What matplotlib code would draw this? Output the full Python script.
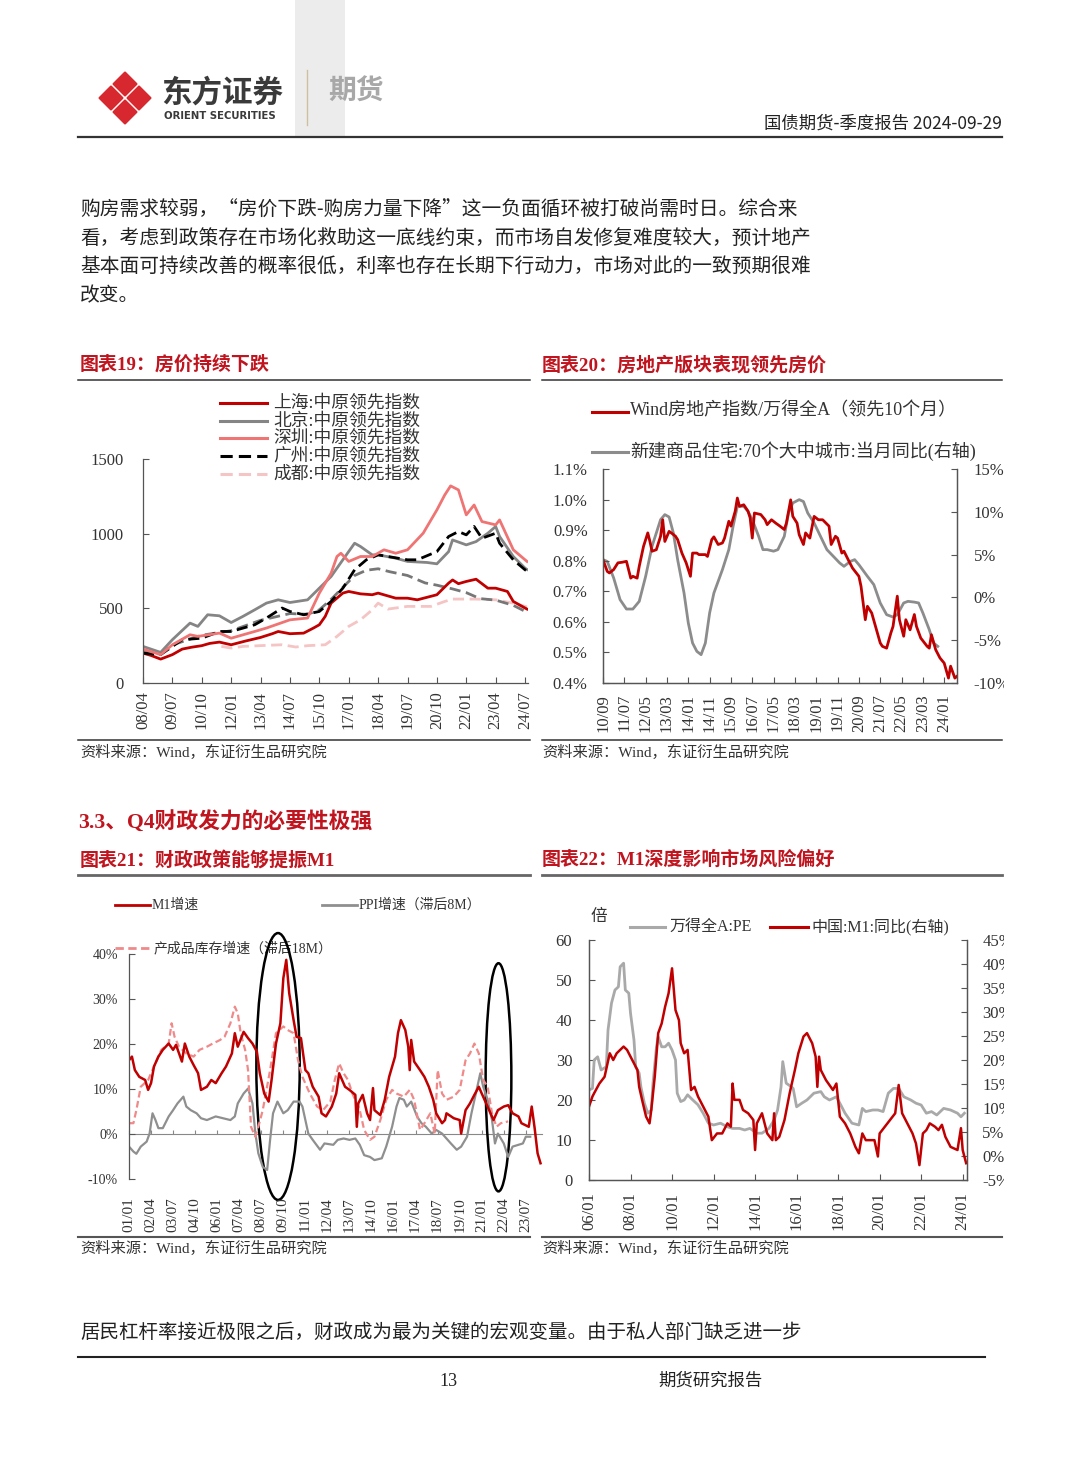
import numpy as np
import pandas as pd
import matplotlib
matplotlib.use('Agg')
import matplotlib.pyplot as plt
from matplotlib.patches import Polygon, Rectangle, Ellipse

SERIF = ['Liberation Serif', 'Noto Sans CJK SC']
SANS = ['Noto Sans CJK SC', 'DejaVu Sans']
plt.rcParams['font.family'] = SERIF

W, H = 1080, 1466
DARK_RED = '#c00000'
TITLE_RED = '#c0141e'
TXT = '#222222'
AX = '#555555'

# ---- chart 19: 中原领先指数, months since 2008-04
sh_m = [0,4,9,15,20,25,30,34,39,45,52,60,66,69,75,82,87,90,93,96,102,105,111,117,120,129,135,140,150,156,158,161,165,170,176,180,186,189,195,196]
sh_v = [200,185,160,190,227,240,250,265,274,256,280,305,330,345,330,334,368,390,446,535,602,613,597,591,602,568,568,557,591,669,690,665,680,695,635,635,613,546,502,495]
bj_m = [0,9,15,24,28,33,39,45,51,57,63,69,75,82,84,90,96,102,108,111,117,120,129,135,145,150,156,158,165,170,176,180,182,189,195,196]
bj_v = [245,205,290,401,379,457,450,405,446,490,535,557,539,553,557,635,713,825,936,914,858,858,836,814,807,798,880,958,925,947,1003,1048,981,847,769,760]
sz_m = [0,9,15,24,28,39,45,57,63,75,84,90,96,99,101,105,111,117,123,129,135,143,150,154,157,161,165,169,173,180,182,189,195,196]
sz_v = [227,190,256,323,312,334,300,345,368,423,435,602,735,847,869,814,847,847,892,869,892,1003,1159,1259,1320,1293,1126,1192,1081,1059,1092,892,825,814]
gz_m = [0,9,15,20,30,39,45,57,63,71,75,82,90,96,102,108,114,120,125,135,140,150,156,161,165,169,173,180,182,189,195,196]
gz_v = [200,190,245,290,300,345,345,390,435,502,479,457,479,546,635,758,825,858,847,825,825,880,981,1014,992,1048,969,1003,936,825,758,750]
cd_m = [40,45,51,63,71,78,84,93,99,105,111,117,120,125,135,147,154,158,170,180,189,195,196]
cd_v = [245,234,245,252,256,241,250,256,312,379,423,490,535,495,513,513,546,562,562,557,535,513,510]
ot_m = [0,9,15,30,45,60,75,84,90,96,102,108,114,120,126,135,144,150,158,165,172,180,189,195,196]
ot_v = [215,195,255,320,350,420,465,460,490,560,640,720,755,765,745,720,670,655,630,605,565,555,520,480,478]
names19 = ['上海:中原领先指数', '北京:中原领先指数', '深圳:中原领先指数', '广州:中原领先指数', '成都:中原领先指数']

# ---- chart 20: months since 2010-09
wr_m = [0,2,3,5,7,9,11,13,14,16,17,19,21,22,23,25,27,28,29,31,32,34,35,37,39,41,42,44,45,48,
        49,51,52,54,56,57,59,60,62,63,64,66,68,69,70,71,74,76,77,79,81,83,85,86,88,89,91,92,94,95,
        97,99,101,103,106,107,109,110,112,113,115,117,120,121,123,124,126,128,130,131,133,135,136,138,139,141,142,144,146,147,
        149,152,153,154,156,158,160,162,163,165,166]
wr_v = [.803,.765,.760,.771,.793,.795,.798,.743,.749,.743,.782,.847,.891,.863,.831,.836,.880,.934,.863,.896,
        .891,.880,.869,.825,.793,.749,.825,.825,.820,.820,.814,.869,.878,.853,.858,.874,.929,.913,.962,1.005,
        .978,.983,.962,.94,.874,.956,.951,.934,.918,.934,.923,.913,.902,.923,.999,.945,.923,.885,.853,.891,
        .874,.945,.934,.934,.913,.853,.880,.874,.825,.831,.803,.776,.749,.716,.607,.651,.629,.58,.531,.52,
        .514,.564,.585,.684,.607,.553,.607,.574,.624,.585,.547,.52,.514,.558,.509,.482,.465,.416,.455,.416,.422]
hp_m = [0,2,5,8,11,14,17,20,23,27,29,31,33,35,38,40,42,44,46,48,50,52,56,59,61,63,66,68,70,73,
        75,77,80,82,85,87,89,92,94,96,99,102,105,108,111,113,116,118,120,124,127,130,133,136,138,141,143,146,148,150,153,155,157]
hp_v = [4.41,4.2,2.27,-0.26,-1.36,-1.36,-0.46,2.46,5.97,9.08,9.67,9.39,7.52,4.41,0.51,-2.99,-5.33,-6.3,-6.69,-5.33,
        -1.82,0.51,3.24,5.58,8.30,10.64,10.64,10.05,9.08,7.13,5.58,5.58,5.4,5.58,7.13,9.86,11.03,11.42,11.2,9.86,
        8.69,7.13,5.58,4.80,4.02,3.63,4.21,4.41,3.82,2.46,1.49,-0.65,-2.02,-2.29,-2.02,-0.65,-0.46,-0.55,-0.65,-1.82,-3.77,-5.33,-5.72]

# ---- chart 21: months since 2001-01
m1_m = [0,2,4,7,11,13,15,17,20,23,27,30,32,36,38,41,44,47,49,53,56,59,63,66,70,72,74,78,81,84,
        87,89,92,95,97,100,103,105,107,109,112,114,117,120,122,125,129,131,134,138,141,143,147,150,154,155,156,159,162,164,
        166,167,171,174,177,181,183,185,188,190,191,192,194,198,201,204,207,209,213,215,216,221,225,226,229,232,235,238,240,243,
        248,251,255,258,261,265,267,272,274,276,278,280]
m1_v = [16.4,17.2,14.2,12.7,12,9.8,11.3,15,17.2,18.7,20.1,18.7,19.8,16.1,20.1,17.2,15.3,13.5,9.8,10.5,
        12,11.3,13.5,15,17.9,22.4,19.4,22.7,21.3,20.1,18.3,13.5,9,7.2,12,20.1,24.6,34.6,38.7,31.3,
        25.3,21.6,21.3,14.2,13.5,10.5,8.3,4.6,3.9,6.1,9,13.5,10.5,9.8,8.7,1.6,6.8,8.7,4.6,3.1,
        10.2,5.3,4.2,7.6,12.7,17.2,22.4,25.3,23.1,19.4,14.2,20.9,16.1,14.2,12.7,10.5,7.6,4.6,2.4,3.1,
        4.6,3.5,3.1,0.1,5.3,6.8,8.7,10.5,9,6.8,3.1,5.3,6.1,6.4,4.6,3.9,2.4,1.6,6.1,1.3,-4.3,-6.5]
inv_m = [0,3,5,8,13,17,22,27,29,31,34,39,44,48,53,57,62,65,69,72,74,76,79,81,83,86,88,91,96,100,
         105,108,112,115,118,123,128,132,137,140,143,146,149,152,157,160,164,167,171,175,
         179,182,187,191,194,198,201,205,208,210,213,216,221,225,229,232,235,238,241,244,247,250,253,258]
inv_v = [2.4,2.4,5.3,10.5,12,15,18.7,20.1,24.6,21.6,19.4,17.9,17.2,18.7,19.4,20.1,20.9,21.6,24.6,28.3,
         26.8,22.4,18.7,14.2,1.6,-0.6,1.6,5.3,14.2,22.4,23.9,23.1,22.4,16.4,12.7,9,6.1,5.3,7.2,12,
         15.7,13.5,12,9,5.3,0.9,-1.3,-0.6,3.1,7.6,9.8,9,8.3,9.8,7.6,0.9,2.4,4.6,0.1,14.2,
         9,7.6,8.3,9.8,16.4,17.9,20.1,17.9,12,10.5,4.6,1.6,2.4,2.8]
ppi_m = [0,3,5,8,12,14,16,18,20,23,27,30,33,37,39,42,46,49,53,56,59,64,69,72,74,78,81,84,86,88,
         91,94,96,98,101,105,108,112,116,118,122,125,130,133,139,142,146,150,154,157,
         160,164,167,172,175,179,182,184,187,189,192,196,199,202,206,209,213,216,219,223,
         226,230,233,236,239,241,244,247,249,251,255,258,261,265,268,270,273]
ppi_v = [-2.8,-3.9,-4.4,-2.8,-1.7,0.1,4.6,3.1,1.3,1.3,3.9,5.3,6.8,8.3,6.1,5.3,4.6,3.5,3.1,3.5,
         3.9,3.5,3.1,3.9,6.8,9,10.1,6.8,0.1,-4.3,-7.3,-8,-1.3,4.6,7.2,4.6,5.3,7.2,7.2,6.1,
         0.1,-1.3,-3.5,-2.1,-2.4,-1.3,-1,-1.3,-1,-2.4,-4.7,-5.1,-5.8,-5.4,-2.8,1.6,6.1,8,7.6,6.1,
         7.2,3.9,2.4,1.6,0.1,0.9,0.1,-1,-2.1,-3.5,-2.8,-0.6,4.6,9,13.5,10.5,7.6,3.1,-2.1,0.1,
         -2.1,-5.1,-2.8,-2.4,-2.1,-0.6,-0.6]
# circled periods: (centre month, centre %, width months, height %)
rings = [(101.4, 15.0, 29.5, 59.3), (251.4, 12.6, 17.5, 50.7)]

# ---- chart 22: months since 2006-01
pe_m = [0,2,3,5,7,10,11,13,15,17,18,20,21,23,24,26,27,29,30,32,34,36,37,39,40,42,44,46,48,50,
        51,53,55,57,60,63,66,69,72,76,80,83,87,90,93,97,100,104,107,109,111,112,114,117,118,120,123,126,130,134,
        136,139,143,145,148,152,156,158,160,164,167,170,173,176,179,182,186,189,192,195,198,201,205,209,213,215,217]
pe_v = [22.5,22.9,30,30.8,27.5,28.3,37.5,44.2,47.5,48.3,53.3,54.2,47.5,46.7,41.7,35,28.3,26.7,23.3,19.2,
        16.7,17.5,24.2,33.3,35.8,33.3,33.3,34.2,32.5,30,21.7,19.6,20,21.3,20,18.8,16.7,14.2,13.75,14.2,
        13.3,12.9,12.9,12.5,12.9,11.7,11.7,12.9,15,17.5,23.3,29.6,24.2,23.3,22.9,18.3,19.2,20,21.7,22.1,
        20.8,20,20.8,19.2,16.7,14.2,13.75,17.9,17.1,17.5,17.5,17.1,21.7,22.9,22.9,20.8,20,19.2,18.75,16.7,
        17.1,16.25,17.9,17.5,16.7,15.8,16.7]
m1b_m = [0,2,3,6,9,12,14,16,18,20,22,25,28,29,31,33,35,36,38,40,42,44,46,48,50,52,53,55,57,59,
         61,63,66,69,71,74,77,80,82,83,84,87,89,92,95,96,97,100,103,106,107,108,110,113,116,119,121,124,126,129,
         131,132,133,134,137,141,143,145,148,151,154,156,158,160,162,165,167,168,171,174,
         177,179,181,184,187,189,191,193,195,197,200,202,204,206,209,213,215,216,218]
m1b_v = [10.3,12.4,13.1,15.1,16.5,21.4,20,21.4,22.1,22.8,22.1,20,17.9,14.4,11.2,8.2,6.8,9.6,16.5,25.6,
         27.6,31.1,33.9,39.1,30.4,28.3,23.5,21.4,22.1,13.75,14.4,12.4,10.3,8.2,3.3,4.7,4.7,6.8,6.1,15.1,
         11.7,11.7,9.6,8.9,7.5,1.25,6.8,8.9,4.7,3.3,8.9,3.3,4,7.5,13.1,17.9,21.4,24.9,25.6,23.5,
         20.7,14.4,20.7,17.9,15.8,13.75,15.1,8.2,6.8,4.7,1.9,0.56,4.7,3.3,3.3,3.3,-0.1,4.7,6.1,7.5,
         8.9,14.8,8.9,6.8,4.7,2.6,-1.9,4.7,5.4,6.8,6.1,5.4,6.5,4,1.9,1.25,5.8,1.25,-1.5]

body1 = ['购房需求较弱，“房价下跌-购房力量下降”这一负面循环被打破尚需时日。综合来',
         '看，考虑到政策存在市场化救助这一底线约束，而市场自发修复难度较大，预计地产',
         '基本面可持续改善的概率很低，利率也存在长期下行动力，市场对此的一致预期很难',
         '改变。']
body2 = '居民杠杆率接近极限之后，财政成为最为关键的宏观变量。由于私人部门缺乏进一步'
source = '资料来源：Wind，东证衍生品研究院'


def ax_at(l, t, r, b):
    return fig.add_axes([l / W, 1 - b / H, (r - l) / W, (b - t) / H], zorder=2)


def month_labels(start, ticks):
    p0 = pd.Period(start, 'M')
    return [(p0 + int(k)).strftime('%y/%m') for k in ticks]


def style(ax, size=12):
    for s in ax.spines.values():
        s.set_color(AX)
        s.set_linewidth(0.9)
    ax.tick_params(direction='in', length=4, width=0.8, colors=AX, labelcolor='#333333', labelsize=size)
    ax.patch.set_visible(False)


fig = plt.figure(figsize=(10.8, 14.66), dpi=100)
page = fig.add_axes([0, 0, 1, 1], zorder=0)
page.set_xlim(0, W)
page.set_ylim(H, 0)
page.axis('off')

# ---- header
page.add_patch(Rectangle((295, 0), 50, 137, color='#ececec', lw=0))
for cx, cy in [(125, 84), (111, 98), (139, 98), (125, 112)]:
    r = 11.5
    page.add_patch(Polygon([(cx, cy - r), (cx + r, cy), (cx, cy + r), (cx - r, cy)],
                           closed=True, fc='#d7282f', ec='#d7282f', lw=1.5, joinstyle='round'))
page.text(161, 93, '东方证券', family=SANS, fontsize=22, weight='bold', color='#3a3a3a', va='center')
page.text(164, 116, 'ORIENT SECURITIES', family=['DejaVu Sans'], fontsize=7.3, weight='bold', color='#3a3a3a', va='center')
page.plot([307, 307], [70, 125], color='#cdbf9f', lw=1)
page.text(328, 92, '期货', family=SANS, fontsize=20, weight='bold', color='#a8a8a8', va='center')
page.text(1002, 124, '国债期货-季度报告 2024-09-29', family=SANS, fontsize=12.5, color=TXT, ha='right', va='center')
page.plot([78, 1002], [137, 137], color='#333333', lw=1.6)

for i, line in enumerate(body1):
    page.text(80, 210 + i * 28.5, line, family=SANS, fontsize=14.2, color=TXT, va='center')

# ---- titles, rules, sources
page.text(80, 365, '图表19：房价持续下跌', family=SERIF, fontsize=13.7, weight='bold', color=TITLE_RED, va='center')
page.text(542, 365, '图表20：房地产版块表现领先房价', family=SERIF, fontsize=13.7, weight='bold', color=TITLE_RED, va='center')
page.text(78, 822, '3.3、Q4财政发力的必要性极强', family=SERIF, fontsize=15.7, weight='bold', color=TITLE_RED, va='center')
page.text(80, 860, '图表21：财政政策能够提振M1', family=SERIF, fontsize=13.7, weight='bold', color=TITLE_RED, va='center')
page.text(542, 860, '图表22：M1深度影响市场风险偏好', family=SERIF, fontsize=13.7, weight='bold', color=TITLE_RED, va='center')
for x0, x1 in [(78, 530), (542, 1002)]:
    page.plot([x0, x1], [380, 380], color='#333333', lw=1.1)
    page.plot([x0, x1], [740, 740], color='#333333', lw=1.1)
    page.plot([x0, x1], [875, 875], color='#666666', lw=2)
    page.plot([x0, x1], [1237, 1237], color='#555555', lw=1.5)
for x0 in [80, 542]:
    page.text(x0, 752, source, family=SERIF, fontsize=11, color='#333333', va='center')
    page.text(x0, 1248, source, family=SERIF, fontsize=11, color='#333333', va='center')

page.text(80, 1332, body2, family=SANS, fontsize=14, color=TXT, va='center')
page.plot([78, 985], [1357, 1357], color='#222222', lw=1.5)
page.text(448, 1381, '13', family=SERIF, fontsize=13, color=TXT, ha='center', va='center')
page.text(710, 1381, '期货研究报告', family=SANS, fontsize=12.5, color=TXT, ha='center', va='center')

# ---- chart 19
ax1 = ax_at(143, 459, 528, 683)
style(ax1)
ax1.plot(cd_m, cd_v, color='#f5c4c4', lw=2, dashes=(4, 2))
ax1.plot(ot_m, ot_v, color='#777777', lw=2, dashes=(4, 2))
ax1.plot(sh_m, sh_v, color=DARK_RED, lw=2)
ax1.plot(bj_m, bj_v, color='#858585', lw=2)
ax1.plot(gz_m, gz_v, color='black', lw=2, dashes=(4, 2))
ax1.plot(sz_m, sz_v, color='#ef7474', lw=2)
ax1.set_xlim(0, 196.5)
ax1.set_ylim(0, 1500)
ax1.set_yticks([0, 500, 1000, 1500])
ax1.tick_params(axis='y', pad=14)
t19 = np.arange(0, 196, 15)
ax1.set_xticks(t19)
ax1.set_xticklabels(month_labels('2008-04', t19), rotation=90)
ax1.tick_params(axis='x', pad=6)
ax1.spines['top'].set_visible(False)
ax1.spines['right'].set_visible(False)

leg19 = [(DARK_RED, None), ('#858585', None), ('#ef7474', None), ('black', (4, 2)), ('#f5c4c4', (4, 2))]
for i, (name, (c, d)) in enumerate(zip(names19, leg19)):
    y = 403 + i * 17.7
    ln, = page.plot([220, 267], [y, y], color=c, lw=2.2)
    if d:
        ln.set_dashes(d)
    page.text(273, y, name, family=SERIF, fontsize=12.8, color='#333333', va='center')

# ---- chart 20
ax2 = ax_at(603, 469, 957, 683)
style(ax2)
ax2r = ax2.twinx()
style(ax2r)
ax2r.plot(hp_m, hp_v, color='#8c8c8c', lw=2)
ax2.plot(wr_m, wr_v, color=DARK_RED, lw=2)
ax2.set_zorder(ax2r.get_zorder() + 1)
ax2.set_xlim(0, 166)
ax2.set_ylim(0.4, 1.1)
ax2r.set_ylim(-10, 15)
ax2.set_yticks(np.arange(0.4, 1.101, 0.1))
ax2.set_yticklabels(['{:.1f}%'.format(v) for v in np.arange(0.4, 1.101, 0.1)])
ax2r.set_yticks(np.arange(-10, 16, 5))
ax2r.set_yticklabels(['{}%'.format(v) for v in np.arange(-10, 16, 5)])
ax2.tick_params(axis='y', pad=11)
ax2r.tick_params(axis='y', pad=12)
t20 = np.arange(0, 161, 10)
ax2.set_xticks(t20)
ax2.set_xticklabels(month_labels('2010-09', t20), rotation=90)
ax2.tick_params(axis='x', pad=8)
for a in (ax2, ax2r):
    a.spines['top'].set_visible(False)
page.plot([592, 628], [412, 412], color=DARK_RED, lw=2.2)
page.text(630, 411, 'Wind房地产指数/万得全A（领先10个月）', family=SERIF, fontsize=13, color='#333333', va='center')
page.plot([592, 628], [452, 452], color='#8c8c8c', lw=2.2)
page.text(630, 451, '新建商品住宅:70个大中城市:当月同比(右轴)', family=SERIF, fontsize=13, color='#333333', va='center')

# ---- chart 21
ax3 = ax_at(129, 954, 542, 1179)
style(ax3, 10)
ax3.plot(ppi_m, ppi_v, color='#8f8f8f', lw=1.6)
ax3.plot(inv_m, inv_v, color='#f08a8a', lw=1.6, dashes=(3, 1.6))
ax3.plot(m1_m, m1_v, color=DARK_RED, lw=1.8)
for cx, cy, w, h in rings:
    ax3.add_patch(Ellipse((cx, cy), w, h, fill=False, ec='black', lw=1.8, clip_on=False))
ax3.set_xlim(0, 281)
ax3.set_ylim(-10, 40)
ax3.set_yticks(np.arange(-10, 41, 10))
ax3.set_yticklabels(['{}%'.format(v) for v in np.arange(-10, 41, 10)])
ax3.tick_params(axis='y', pad=8)
t21 = np.arange(0, 271, 15)
ax3.set_xticks(t21)
ax3.set_xticklabels(month_labels('2001-01', t21), rotation=90, fontsize=11)
ax3.tick_params(axis='x', length=0, pad=13)
for s in ['top', 'right', 'bottom']:
    ax3.spines[s].set_visible(False)
zero = ax3.secondary_xaxis(0.2)
zero.set_xticks(t21)
zero.tick_params(direction='in', length=3, width=0.8, colors='#888888', labelbottom=False)
zero.spines['bottom'].set_color('#888888')
page.plot([115, 150], [905, 905], color=DARK_RED, lw=2)
page.text(152, 905, 'M1增速', family=SERIF, fontsize=10, color='#333333', va='center')
page.plot([322, 357], [905, 905], color='#8f8f8f', lw=2)
page.text(359, 905, 'PPI增速（滞后8M）', family=SERIF, fontsize=10, color='#333333', va='center')
lninv, = page.plot([115, 152], [948, 948], color='#f08a8a', lw=2)
lninv.set_dashes((3, 1.6))
page.text(154, 948, '产成品库存增速（滞后18M）', family=SERIF, fontsize=10, color='#333333', va='center')

# ---- chart 22
ax4 = ax_at(589, 940, 967, 1180)
style(ax4)
ax4r = ax4.twinx()
style(ax4r)
ax4.plot(pe_m, pe_v, color='#a9a9a9', lw=2)
ax4r.plot(m1b_m, m1b_v, color=DARK_RED, lw=1.8)
ax4.set_xlim(0, 218.5)
ax4.set_ylim(0, 60)
ax4r.set_ylim(-5, 45)
ax4.set_yticks(np.arange(0, 61, 10))
ax4r.set_yticks(np.arange(-5, 46, 5))
ax4r.set_yticklabels(['{}%'.format(v) for v in np.arange(-5, 46, 5)])
ax4.tick_params(axis='y', pad=12)
ax4r.tick_params(axis='y', pad=11)
t22 = np.arange(0, 217, 24)
ax4.set_xticks(t22)
ax4.set_xticklabels(month_labels('2006-01', t22), rotation=90)
ax4.tick_params(axis='x', pad=9)
for a in (ax4, ax4r):
    a.spines['top'].set_visible(False)
page.text(591, 917, '倍', family=SERIF, fontsize=12, color='#333333', va='center')
page.plot([630, 665], [927, 927], color='#a9a9a9', lw=2.2)
page.text(669, 927, '万得全A:PE', family=SERIF, fontsize=11.5, color='#333333', va='center')
page.plot([770, 808], [927, 927], color=DARK_RED, lw=2.2)
page.text(811, 927, '中国:M1:同比(右轴)', family=SERIF, fontsize=11.5, color='#333333', va='center')

# right margin of the page hides overflowing labels
fig.add_artist(Rectangle((1004 / W, 0), 1 - 1004 / W, 1, transform=fig.transFigure,
                         color='white', lw=0, zorder=10))

fig.savefig('out.png', dpi=100)
